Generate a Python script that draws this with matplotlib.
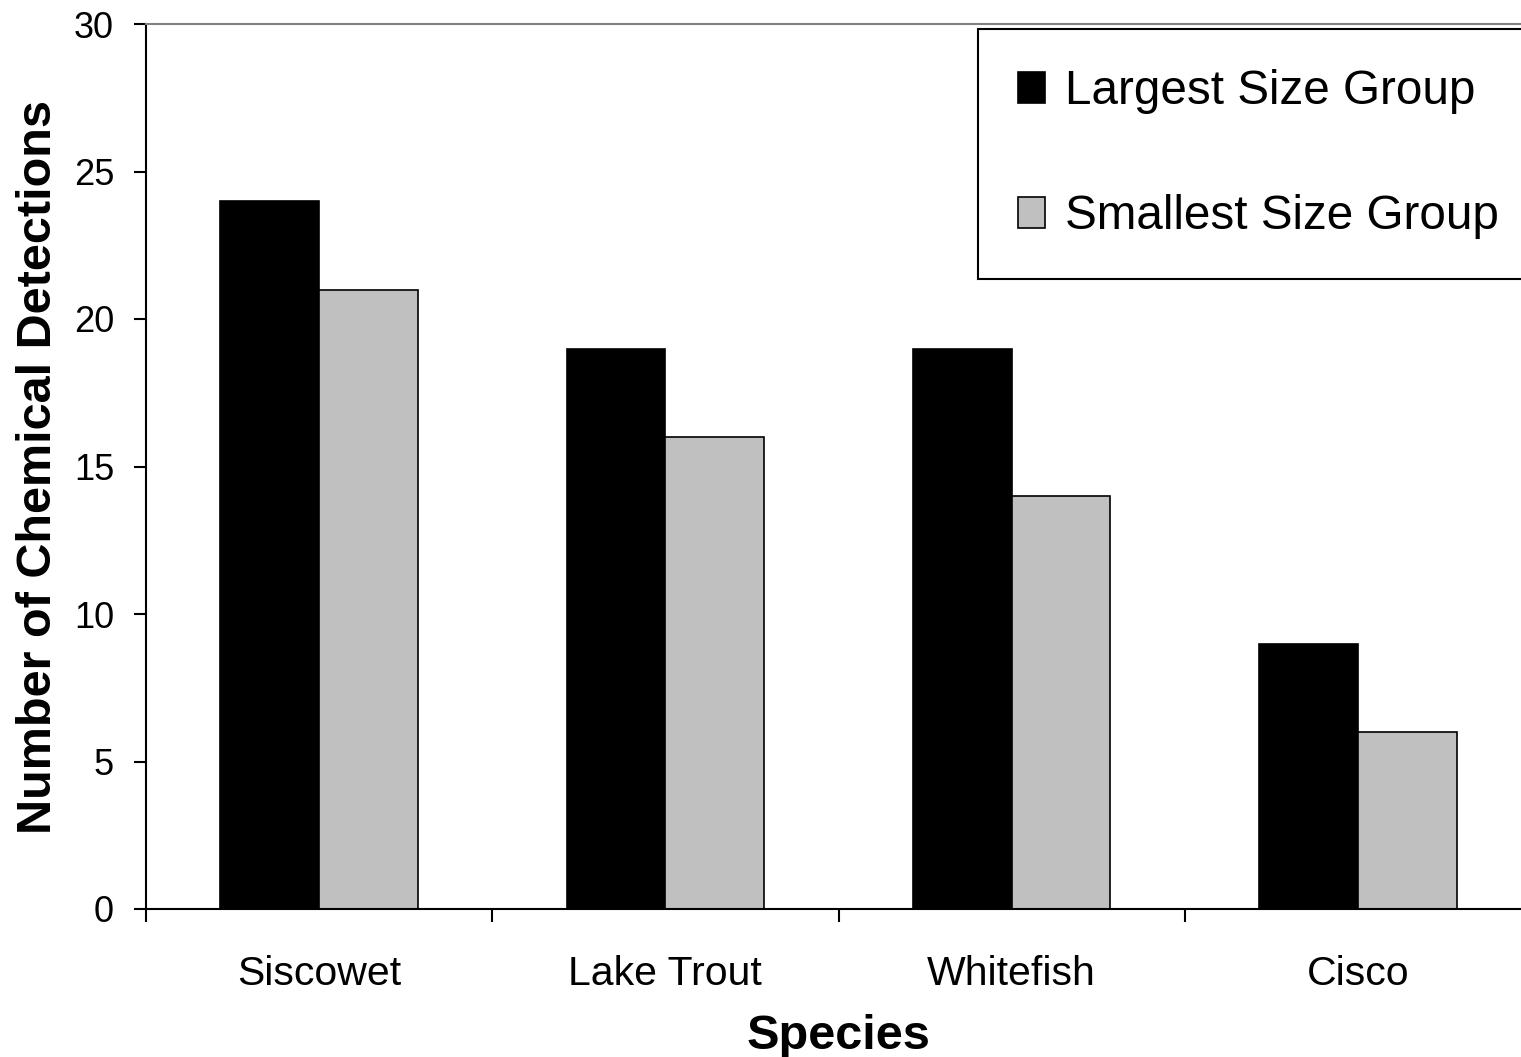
import numpy as np
import matplotlib
matplotlib.use("Agg")
import matplotlib.pyplot as plt

plt.rcParams['font.family'] = ['Liberation Sans', 'DejaVu Sans']

species = ["Siscowet", "Lake Trout", "Whitefish", "Cisco"]
largest = [24, 19, 19, 9]
smallest = [21, 16, 14, 6]
series_names = ["Largest Size Group", "Smallest Size Group"]

fig = plt.figure(figsize=(15.21, 10.57), dpi=100)
ax = fig.add_axes([146 / 1521, 1 - 909 / 1057, (1531 - 146) / 1521, (909 - 24) / 1057])

x = np.arange(len(species))
w = 0.285
ax.bar(x - w / 2, largest, w, color="black", edgecolor="black", linewidth=1.2, label=series_names[0])
ax.bar(x + w / 2, smallest, w, color="#c0c0c0", edgecolor="black", linewidth=1.2, label=series_names[1])

ax.set_xlim(-0.5, len(species) - 0.5)
ax.set_ylim(0, 30)
ax.set_yticks(range(0, 31, 5))

# category ticks sit between groups, labels centered under groups
ax.set_xticks(np.arange(-0.5, len(species), 1.0))
ax.set_xticklabels([])
ax.set_xticks(x, minor=True)
ax.set_xticklabels(species, minor=True, fontsize=29.5)
ax.tick_params(axis="x", which="minor", length=0, pad=33)
ax.tick_params(axis="x", which="major", direction="out", length=9, width=1.5)
ax.tick_params(axis="y", direction="out", length=9, width=1.5, labelsize=26, pad=14)

for s in ["left", "bottom"]:
    ax.spines[s].set_linewidth(1.5)
ax.spines["top"].set_color("#808080")
ax.spines["top"].set_linewidth(1.5)
ax.spines["right"].set_visible(False)

ax.set_xlabel("Species", fontsize=35, fontweight="bold", labelpad=15)
ax.set_ylabel("Number of Chemical Detections", fontsize=35, fontweight="bold", labelpad=9)

leg = ax.legend(loc="upper left", bbox_to_anchor=(978 / 1521, 1 - 29 / 1057),
                bbox_transform=fig.transFigure, fontsize=34.3, frameon=True,
                fancybox=False, edgecolor="black", framealpha=1,
                handlelength=0.56, handleheight=0.64, handletextpad=0.42,
                labelspacing=1.68, borderpad=0.84, borderaxespad=0)
leg.get_frame().set_linewidth(1.5)

fig.savefig("out.png", dpi=100)
